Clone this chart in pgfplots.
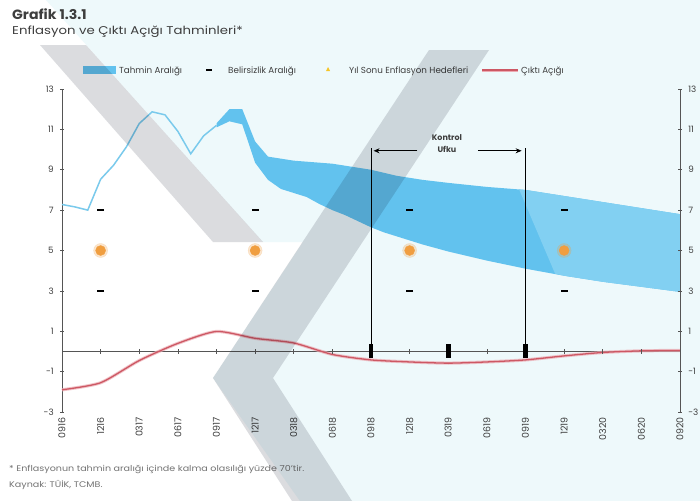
\documentclass[border=0pt]{standalone}
\usepackage{fontspec}
\setmainfont{Poppins}
\usepackage{pgfplots}
\usepackage{pgfplotstable}
\pgfplotsset{compat=1.18}
\usetikzlibrary{arrows.meta}

\definecolor{bandblue}{RGB}{98,194,238}
\definecolor{bandlight}{RGB}{130,208,242}
\definecolor{histblue}{RGB}{122,202,236}
\definecolor{gapred}{RGB}{205,88,100}
\definecolor{gappink}{RGB}{236,170,178}
\definecolor{targetorange}{RGB}{240,158,64}
\definecolor{stripegray}{RGB}{219,220,223}
\definecolor{tintcyan}{RGB}{238,249,251}
\definecolor{txtgray}{RGB}{62,62,62}
\definecolor{axgray}{RGB}{85,85,85}

% realised annual CPI inflation, months after 09/2016
\pgfplotstableread{
m v
0 7.28
1 7.16
2 7.00
3 8.53
4 9.22
5 10.13
6 11.29
7 11.87
8 11.72
9 10.90
10 9.79
11 10.68
12 11.20
}\histdata

% forecast range: upper bound forwards, then lower bound backwards
\pgfplotstableread{
m v
12 11.30
13 12.00
14 12.00
15 10.40
16 9.65
17 9.55
18 9.45
19 9.40
20 9.35
21 9.30
22 9.20
23 9.10
24 9.00
25 8.85
26 8.70
27 8.60
28 8.50
30 8.35
33 8.15
36 8.00
39 7.70
42 7.40
45 7.10
48 6.80
48 2.95
45 3.20
42 3.45
39 3.75
36 4.10
33 4.50
30 4.95
28 5.30
27 5.50
26 5.70
25 5.90
24 6.15
23 6.45
22 6.75
21 7.00
20 7.30
19 7.65
18 7.85
17 8.05
16 8.50
15 9.35
14 11.25
13 11.40
12 11.10
}\banddata

% paler tail of the same range, beyond the diagonal watermark edge
\pgfplotstableread{
m v
35.5 8.03
36 8.00
39 7.70
42 7.40
45 7.10
48 6.80
48 2.95
45 3.20
42 3.45
39 3.75
38.3 3.85
}\bandtail

% output gap, quarterly
\pgfplotstableread{
m v
0 -1.90
3 -1.55
6 -0.45
9 0.40
12 0.99
15 0.65
18 0.42
21 -0.15
24 -0.42
27 -0.52
30 -0.58
33 -0.52
36 -0.42
39 -0.22
42 -0.05
45 0.03
48 0.05
}\gapdata

\begin{document}
\begin{tikzpicture}
% page background (pixel-like units, y downwards)
\begin{scope}[x=1bp,y=-1bp]
  \fill[white] (0,0) rectangle (700,501);
  \fill[tintcyan] (46,0) -- (700,0) -- (700,501) -- (300,501) -- (213,378)
      -- (303,242) -- (263,242) -- cycle;
  % titles
  \node[anchor=base west, inner sep=0, txtgray, xscale=1.05, font=\bfseries\fontsize{13.5}{15}\selectfont] at (12,19) {Grafik 1.3.1};
  \node[anchor=base west, inner sep=0, txtgray, xscale=1.18, font=\fontsize{11.3}{13}\selectfont] at (12,34) {Enflasyon ve Çıktı Açığı Tahminleri*};
  % legend
  \fill[bandblue] (83,66) rectangle (116,74);
  \node[anchor=base west, inner sep=0, txtgray, font=\fontsize{8.8}{10}\selectfont] at (119,73.5) {Tahmin Aralığı};
  \draw[black, line width=2.4bp] (206,70) -- (212,70);
  \node[anchor=base west, inner sep=0, txtgray, font=\fontsize{8.8}{10}\selectfont] at (228,73.5) {Belirsizlik Aralığı};
  \fill[targetorange!60!yellow] (326,71) -- (330,71) -- (328,67) -- cycle;
  \node[anchor=base west, inner sep=0, txtgray, font=\fontsize{8.8}{10}\selectfont] at (349,73.5) {Yıl Sonu Enflasyon Hedefleri};
  \draw[gappink, line width=3bp] (482,70) -- (518,70);
  \draw[gapred, line width=1.2bp] (482,70) -- (518,70);
  \node[anchor=base west, inner sep=0, txtgray, font=\fontsize{8.8}{10}\selectfont] at (521,73.5) {Çıktı Açığı};
  % footnote
  \node[anchor=base west, inner sep=0, black!55, xscale=1.17, font=\fontsize{8.2}{9}\selectfont] at (9,471) {* Enflasyonun tahmin aralığı içinde kalma olasılığı yüzde 70'tir.};
  \node[anchor=base west, inner sep=0, black!55, xscale=1.17, font=\fontsize{8.2}{9}\selectfont] at (9,487) {Kaynak: TÜİK, TCMB.};
\end{scope}

\begin{axis}[
  at={(62bp,-412bp)}, anchor=south west,
  scale only axis, width=618bp, height=323bp,
  xmin=0, xmax=48, ymin=-3, ymax=13,
  axis y line*=left, axis x line*=bottom,
  x axis line style={draw=none},
  y axis line style={axgray, line width=0.7pt},
  xtick={0,3,...,48},
  xticklabels={0916,1216,0317,0617,0917,1217,0318,0618,0918,1218,0319,0619,0919,1219,0320,0620,0920},
  xtick style={draw=none},
  xticklabel style={rotate=90, anchor=east, font=\fontsize{9.5}{10}\selectfont, text=txtgray},
  ytick={-3,-1,...,13},
  ytick style={axgray, line width=0.6pt},
  tick align=center, major tick length=3.5bp,
  yticklabel style={font=\fontsize{8.8}{10}\selectfont, text=txtgray, xshift=-3bp},
  /pgf/number format/assume math mode=true,
  clip=false,
]
  % forecast range
  \addplot[fill=bandblue, draw=none] table[x=m, y=v] {\banddata} -- cycle;
  \addplot[fill=bandlight, draw=none] table[x=m, y=v] {\bandtail} -- cycle;
  % realised inflation
  \addplot[histblue, line width=1.5pt] table[x=m, y=v] {\histdata};

  % zero line with quarterly ticks
  \addplot[axgray, line width=0.7pt] coordinates {(0,0) (48,0)};
  \addplot[axgray, only marks, mark=|, mark size=2.2bp, mark options={line width=0.6pt}]
    coordinates {(3,0) (6,0) (9,0) (12,0) (15,0) (18,0) (21,0) (27,0) (33,0) (39,0) (42,0) (45,0)};

  % output gap
  \addplot[gappink, line width=3.2bp, smooth, tension=0.4, opacity=0.7] table[x=m, y=v] {\gapdata};
  \addplot[gapred, line width=1.3bp, smooth, tension=0.4] table[x=m, y=v] {\gapdata};

  % policy horizon
  \addplot[black, line width=0.7pt] coordinates {(24,0) (24,10.1)};
  \addplot[black, line width=0.7pt] coordinates {(36,0) (36,10.1)};
  \addplot[black, line width=4.5bp] coordinates {(24,-0.32) (24,0.35)};
  \addplot[black, line width=4.5bp] coordinates {(30,-0.32) (30,0.35)};
  \addplot[black, line width=4.5bp] coordinates {(36,-0.32) (36,0.35)};
  \draw[-{Stealth[length=6bp,width=5bp]}, black, line width=0.9pt] (axis cs:27.6,9.94) -- (axis cs:24.2,9.94);
  \draw[-{Stealth[length=6bp,width=5bp]}, black, line width=0.9pt] (axis cs:32.3,9.94) -- (axis cs:35.7,9.94);
  \node[txtgray, align=center, font=\fontsize{8}{12}\selectfont\bfseries, inner sep=0] at (axis cs:29.9,10.3) {Kontrol\\Ufku};

  % uncertainty bounds
  \addplot[black, only marks, mark=-, mark size=3.5bp, mark options={line width=2.4bp}]
    coordinates {(3,7) (3,3) (15,7) (15,3) (27,7) (27,3) (39,7) (39,3)};
  % year-end targets
  \addplot[targetorange, only marks, mark=*, mark size=7bp, opacity=0.25, mark options={draw=none}]
    coordinates {(3,5) (15,5) (27,5) (39,5)};
  \addplot[targetorange, only marks, mark=*, mark size=5bp, mark options={draw=none}]
    coordinates {(3,5) (15,5) (27,5) (39,5)};
\end{axis}

% right-hand scale
\begin{axis}[
  at={(62bp,-412bp)}, anchor=south west,
  scale only axis, width=618bp, height=323bp,
  xmin=0, xmax=48, ymin=-3, ymax=13,
  axis y line*=right, axis x line*=bottom,
  x axis line style={draw=none}, xtick=\empty,
  y axis line style={axgray, line width=0.7pt},
  ytick={-3,-1,...,13},
  ytick style={axgray, line width=0.6pt},
  tick align=center, major tick length=3.5bp,
  yticklabel style={font=\fontsize{8.8}{10}\selectfont, text=txtgray, xshift=3bp},
  /pgf/number format/assume math mode=true,
]
  \addplot[draw=none] coordinates {(0,0) (48,0)};
\end{axis}

% watermark chevrons printed over the chart
\begin{scope}[x=1bp,y=-1bp, blend mode=multiply]
  \fill[stripegray] (40,45) -- (86,45) -- (263,242) -- (213,242) -- cycle;
  \fill[stripegray] (213,378) -- (429,50) -- (489,50) -- (273,378)
      -- (352,501) -- (292,501) -- cycle;
\end{scope}
\pgfresetboundingbox
\useasboundingbox (0,0) rectangle (700bp,-501bp);
\end{tikzpicture}
\end{document}
